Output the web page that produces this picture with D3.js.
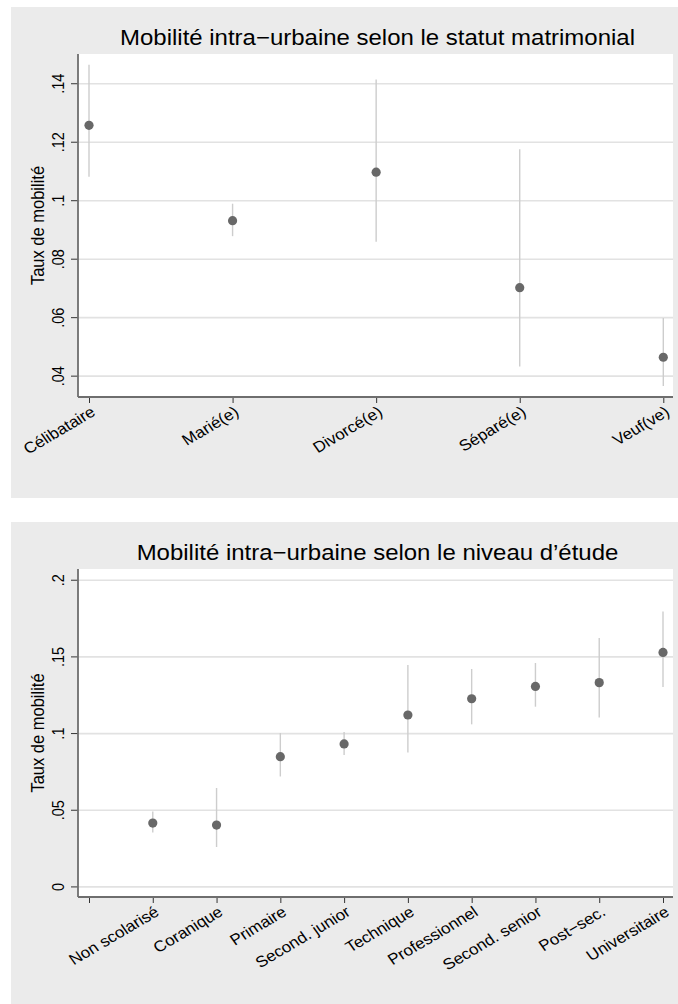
<!DOCTYPE html>
<html lang="fr">
<head>
<meta charset="utf-8">
<script src="https://cdn.jsdelivr.net/npm/d3@7"></script>
<style>
  html, body { margin: 0; padding: 0; background: #ffffff; }
  svg { display: block; }
  text { font-family: "Liberation Sans", Arial, Helvetica, sans-serif; fill: #000; }
</style>
</head>
<body>
<svg id="chart" width="678" height="1004"></svg>
<script>
// Statut matrimonial : taux de mobilité et intervalles de confiance
const statutCategories = ["Célibataire", "Marié(e)", "Divorcé(e)", "Séparé(e)", "Veuf(ve)"];
const statutTaux  = [0.1256, 0.0930, 0.1096, 0.0701, 0.0463];
const statutBasse = [0.1080, 0.0877, 0.0858, 0.0431, 0.0365];
const statutHaute = [0.1463, 0.0988, 0.1413, 0.1174, 0.0597];
const statutTicks = [0.04, 0.06, 0.08, 0.10, 0.12, 0.14];

// Niveau d'étude : taux de mobilité et intervalles de confiance
const etudeCategories = ["Non scolarisé", "Coranique", "Primaire", "Second. junior", "Technique",
                         "Professionnel", "Second. senior", "Post\u2212sec.", "Universitaire"];
const etudeTaux  = [0.0413, 0.0400, 0.0846, 0.0929, 0.1118, 0.1224, 0.1304, 0.1329, 0.1526];
const etudeBasse = [0.0352, 0.0257, 0.0717, 0.0857, 0.0874, 0.1057, 0.1172, 0.1102, 0.1300];
const etudeHaute = [0.0489, 0.0642, 0.1000, 0.1007, 0.1444, 0.1418, 0.1457, 0.1620, 0.1793];
const etudeTicks = [0, 0.05, 0.10, 0.15, 0.20];

const svg = d3.select("#chart");

// les textes du graphique sont légèrement élargis horizontalement
const WIDEN = 1.1;

const fmtTick = v => v === 0 ? "0" : String(+v.toFixed(3)).replace(/^0\./, ".");

function drawPanel(cfg) {
  const g = svg.append("g");

  // fond du graphique
  g.append("rect")
    .attr("x", cfg.panel.x).attr("y", cfg.panel.y)
    .attr("width", cfg.panel.w).attr("height", cfg.panel.h)
    .attr("fill", "#ebebeb");

  const p = cfg.plot;
  g.append("rect")
    .attr("x", p.l).attr("y", p.t)
    .attr("width", p.r - p.l).attr("height", p.b - p.t)
    .attr("fill", "#ffffff");

  const y = d3.scaleLinear().domain(cfg.yDomain).range([p.b, p.t]);
  const x = d3.scaleLinear().domain(cfg.xDomain).range([p.x0, p.x1]);

  // lignes de grille horizontales
  g.append("g")
    .attr("transform", `translate(${p.l},0)`)
    .call(d3.axisLeft(y).tickValues(cfg.yTicks).tickSize(-(p.r - p.l)).tickFormat(""))
    .call(a => a.select(".domain").remove())
    .call(a => a.selectAll("line").attr("stroke", "#e2e2e2").attr("stroke-width", 1.6));

  // intervalles de confiance
  g.append("g").selectAll("line")
    .data(cfg.taux)
    .join("line")
    .attr("x1", (d, i) => x(cfg.xPos[i])).attr("x2", (d, i) => x(cfg.xPos[i]))
    .attr("y1", (d, i) => y(cfg.basse[i])).attr("y2", (d, i) => y(cfg.haute[i]))
    .attr("stroke", "#cdcdcd").attr("stroke-width", 1.4);

  // taux estimés
  g.append("g").selectAll("circle")
    .data(cfg.taux)
    .join("circle")
    .attr("cx", (d, i) => x(cfg.xPos[i]))
    .attr("cy", d => y(d))
    .attr("r", 4.6)
    .attr("fill", "#686868");

  // axe vertical
  const yAxis = g.append("g")
    .attr("transform", `translate(${p.l},0)`)
    .call(d3.axisLeft(y).tickValues(cfg.yTicks).tickSize(7).tickFormat(fmtTick));
  yAxis.select(".domain").remove();
  yAxis.selectAll(".tick line").attr("stroke", "#333").attr("stroke-width", 1);
  yAxis.selectAll(".tick text")
    .attr("x", null).attr("dy", null)
    .attr("transform", `translate(-14.5,0) scale(${WIDEN},1) rotate(-90)`)
    .attr("text-anchor", "middle")
    .style("font-size", "14.5px")
    .style("font-family", "'Liberation Sans', Arial, sans-serif");
  g.append("line")
    .attr("x1", p.l).attr("x2", p.l).attr("y1", p.t).attr("y2", p.b)
    .attr("stroke", "#6e6e6e").attr("stroke-width", 1.8);

  // axe horizontal
  const xAxis = g.append("g")
    .attr("transform", `translate(0,${p.b})`)
    .call(d3.axisBottom(x).tickValues(cfg.xTickPos).tickSize(6)
      .tickFormat(v => cfg.labelOf(v)));
  xAxis.select(".domain").remove();
  xAxis.selectAll(".tick line").attr("stroke", "#333").attr("stroke-width", 1);
  xAxis.selectAll(".tick text")
    .attr("y", null).attr("dy", null)
    .attr("transform", `translate(7,17.5) scale(${WIDEN},1) rotate(-33)`)
    .attr("text-anchor", "end")
    .style("font-size", "15.5px")
    .style("font-family", "'Liberation Sans', Arial, sans-serif");
  g.append("line")
    .attr("x1", p.l).attr("x2", p.r).attr("y1", p.b).attr("y2", p.b)
    .attr("stroke", "#6e6e6e").attr("stroke-width", 1.8);

  // titre de l'axe vertical
  g.append("text")
    .attr("transform", `translate(43.5,${(p.t + p.b) / 2}) scale(${WIDEN},1) rotate(-90)`)
    .attr("text-anchor", "middle")
    .style("font-size", "16.5px")
    .text("Taux de mobilité");

  // titre
  g.append("text")
    .attr("transform", `translate(${(p.l + p.r) / 2 + 2},${cfg.titleY}) scale(${WIDEN},1)`)
    .attr("text-anchor", "middle")
    .style("font-size", "21.8px")
    .text(cfg.title);
}

drawPanel({
  title: "Mobilité intra\u2212urbaine selon le statut matrimonial",
  titleY: 45,
  panel: { x: 11, y: 7, w: 667, h: 491 },
  plot: { l: 78, t: 54, r: 673, b: 397, x0: 89, x1: 663.3 },
  yDomain: [0.0327, 0.150],
  yTicks: statutTicks,
  xDomain: [1, 5],
  xPos: statutCategories.map((c, i) => i + 1),
  xTickPos: statutCategories.map((c, i) => i + 1),
  labelOf: v => statutCategories[v - 1],
  taux: statutTaux, basse: statutBasse, haute: statutHaute
});

drawPanel({
  title: "Mobilité intra\u2212urbaine selon le niveau d\u2019étude",
  titleY: 560,
  panel: { x: 11, y: 522, w: 667, h: 482 },
  plot: { l: 78, t: 569, r: 673, b: 897, x0: 89, x1: 663 },
  yDomain: [-0.0069, 0.207],
  yTicks: etudeTicks,
  xDomain: [0, 9],
  xPos: etudeCategories.map((c, i) => i + 1),
  xTickPos: d3.range(0, etudeCategories.length + 1),
  labelOf: v => v === 0 ? "" : etudeCategories[v - 1],
  taux: etudeTaux, basse: etudeBasse, haute: etudeHaute
});
</script>
</body>
</html>
